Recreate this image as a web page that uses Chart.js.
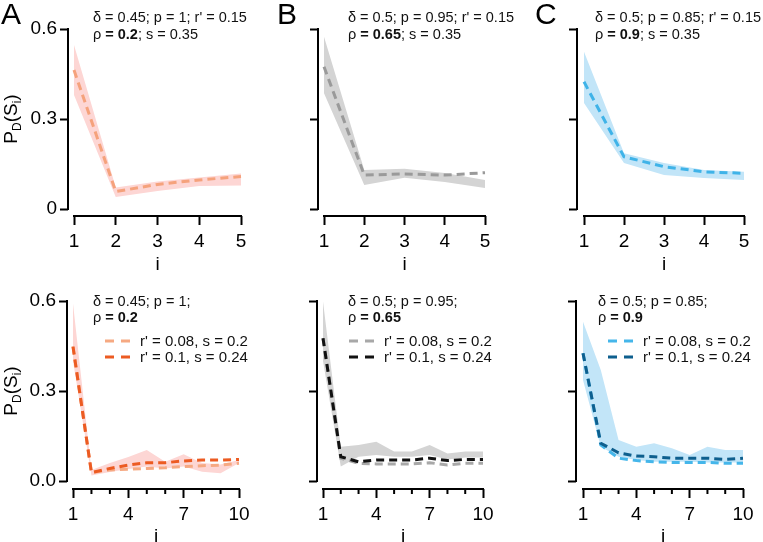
<!DOCTYPE html>
<html><head><meta charset="utf-8">
<script src="https://cdn.jsdelivr.net/npm/chart.js@4/dist/chart.umd.min.js"></script>
<style>
html,body{margin:0;padding:0;background:#fff;}
#wrap{position:relative;width:763px;height:542px;overflow:hidden;background:#fff;}
#wrap canvas{position:absolute;left:0;top:0;}
</style></head><body>
<div id="wrap">
<canvas id="c0" width="763" height="542"></canvas>
<canvas id="c1" width="763" height="542"></canvas>
<canvas id="c2" width="763" height="542"></canvas>
<canvas id="c3" width="763" height="542"></canvas>
<canvas id="c4" width="763" height="542"></canvas>
<canvas id="c5" width="763" height="542"></canvas>
</div>
<script>
// ---------- data ----------
const iTop = [1, 2, 3, 4, 5];
const iBottom = [1, 2, 3, 4, 5, 6, 7, 8, 9, 10];
const yTickValues = [0, 0.3, 0.6];
const yTickLabelsTop = ['0', '0.3', '0.6'];
const yTickLabelsBottom = ['0.0', '0.3', '0.6'];
const xTickLabelsTop = ['1', '2', '3', '4', '5'];
const xTickLabelsBottom = ['1', '', '', '4', '', '', '7', '', '', '10'];

// top row (r' = 0.15, s = 0.35)
const topA_mean = [0.463, 0.058, 0.082, 0.097, 0.108];
const topA_hi   = [0.547, 0.072, 0.092, 0.105, 0.118];
const topA_lo   = [0.380, 0.040, 0.060, 0.077, 0.078];
const topB_mean = [0.474, 0.113, 0.117, 0.113, 0.121];
const topB_hi   = [0.574, 0.130, 0.134, 0.120, 0.097];
const topB_lo   = [0.386, 0.080, 0.104, 0.090, 0.070];
const topC_mean = [0.424, 0.174, 0.141, 0.124, 0.119];
const topC_hi   = [0.524, 0.186, 0.153, 0.130, 0.124];
const topC_lo   = [0.353, 0.153, 0.113, 0.103, 0.097];

// bottom row
const botA_r008 = [0.448, 0.028, 0.037, 0.039, 0.042, 0.044, 0.048, 0.051, 0.053, 0.059];
const botA_r010 = [0.448, 0.028, 0.042, 0.053, 0.061, 0.061, 0.067, 0.070, 0.070, 0.072];
const botA_hi   = [0.592, 0.037, 0.060, 0.080, 0.103, 0.064, 0.089, 0.060, 0.055, 0.070];
const botA_lo   = [0.400, 0.018, 0.030, 0.040, 0.048, 0.042, 0.048, 0.031, 0.026, 0.060];
const botB_r008 = [0.476, 0.076, 0.059, 0.057, 0.057, 0.057, 0.061, 0.053, 0.059, 0.059];
const botB_r010 = [0.476, 0.081, 0.064, 0.070, 0.070, 0.070, 0.076, 0.068, 0.072, 0.072];
const botB_hi   = [0.598, 0.114, 0.120, 0.131, 0.098, 0.098, 0.120, 0.092, 0.098, 0.098];
const botB_lo   = [0.400, 0.048, 0.081, 0.087, 0.081, 0.081, 0.087, 0.072, 0.078, 0.078];
const botC_r008 = [0.426, 0.120, 0.076, 0.068, 0.064, 0.062, 0.062, 0.062, 0.059, 0.059];
const botC_r010 = [0.426, 0.126, 0.094, 0.083, 0.081, 0.076, 0.076, 0.076, 0.072, 0.076];
const botC_hi   = [0.531, 0.370, 0.137, 0.114, 0.126, 0.109, 0.087, 0.114, 0.103, 0.103];
const botC_lo   = [0.337, 0.114, 0.081, 0.070, 0.064, 0.064, 0.064, 0.062, 0.062, 0.062];

const legendLabels = ["r' = 0.08, s = 0.2", "r' = 0.1, s = 0.24"];

// ---------- styling ----------
const FONT = '"Liberation Sans", Arial, Helvetica, sans-serif';
const COL = {
  bandA: '#fdd6d4', lineA: '#f5a27c', lightA: '#f6a982', darkA: '#ec5b22',
  bandB: '#d4d4d4', lineB: '#9a9a9a', lightB: '#a8a8a8', darkB: '#111111',
  bandC: '#c2e5f8', lineC: '#3fb3e8', lightC: '#45b6ea', darkC: '#0e5f8e'
};
const X_H = 45, Y_W = 62, W = 763, H = 542;
const TICK_FS = 19;
const ANN_FS = 14.5;

function pts(xs, ys) { return xs.map((x, k) => ({x: x, y: ys[k]})); }
function bandSets(xs, lo, hi, color) {
  return [
    {data: pts(xs, lo), borderWidth: 0, pointRadius: 0, fill: false, order: 20, borderColor: 'rgba(0,0,0,0)'},
    {data: pts(xs, hi), borderWidth: 0, pointRadius: 0, fill: '-1', order: 19, backgroundColor: color, borderColor: 'rgba(0,0,0,0)'}
  ];
}
function lineSet(xs, ys, color, order) {
  return {data: pts(xs, ys), borderColor: color, borderWidth: 3, borderDash: [8, 5], pointRadius: 0,
          fill: false, tension: 0, order: order, clip: false, borderCapStyle: 'butt'};
}

function drawSegs(ctx, x, y, segs, size) {
  let cx = x;
  segs.forEach(s => {
    ctx.font = (s.b ? 'bold ' : '') + size + 'px ' + FONT;
    ctx.fillText(s.t, cx, y);
    cx += ctx.measureText(s.t).width;
  });
}

const panelPlugin = {
  id: 'panelDeco',
  afterDraw(chart) {
    const o = chart.options.plugins.panelDeco;
    const ctx = chart.ctx, xs = chart.scales.x, ys = chart.scales.y, ca = chart.chartArea;
    ctx.save();
    ctx.strokeStyle = '#000'; ctx.lineWidth = 2; ctx.lineCap = 'butt';
    // y spine
    ctx.beginPath();
    ctx.moveTo(ca.left, ys.getPixelForValue(yTickValues[0]) + 1);
    ctx.lineTo(ca.left, ys.getPixelForValue(yTickValues[yTickValues.length - 1]) - 1);
    ctx.stroke();
    // x spine
    const x0 = xs.getPixelForValue(o.xTicks[0]), x1 = xs.getPixelForValue(o.xTicks[o.xTicks.length - 1]);
    ctx.beginPath();
    ctx.moveTo(x0 - 1, ca.bottom); ctx.lineTo(x1 + 1, ca.bottom);
    ctx.stroke();
    // minor x ticks
    o.xTicks.forEach((v, k) => {
      if (o.xLabels[k] === '') {
        const px = xs.getPixelForValue(v);
        ctx.beginPath(); ctx.moveTo(px, ca.bottom); ctx.lineTo(px, ca.bottom + 5); ctx.stroke();
      }
    });
    ctx.fillStyle = '#000';
    // axis title i
    ctx.font = TICK_FS + 'px ' + FONT; ctx.textAlign = 'center'; ctx.textBaseline = 'middle';
    ctx.fillText('i', (x0 + x1) / 2, o.iY);
    // panel letter
    if (o.letter) {
      ctx.font = '30px ' + FONT; ctx.textAlign = 'left'; ctx.textBaseline = 'alphabetic';
      ctx.fillText(o.letter, o.letterX, 24);
    }
    // y title
    if (o.yTitle) {
      ctx.save();
      ctx.translate(17, (ys.getPixelForValue(0) + ys.getPixelForValue(0.6)) / 2);
      ctx.rotate(-Math.PI / 2);
      ctx.textAlign = 'left'; ctx.textBaseline = 'alphabetic';
      const parts = [['P', 19, 0], ['D', 12, 4], ['(S', 19, 0], ['i', 12, 4], [')', 19, 0]];
      let tw = 0;
      parts.forEach(p => { ctx.font = p[1] + 'px ' + FONT; tw += ctx.measureText(p[0]).width; });
      let cx = -tw / 2;
      parts.forEach(p => { ctx.font = p[1] + 'px ' + FONT; ctx.fillText(p[0], cx, p[2]); cx += ctx.measureText(p[0]).width; });
      ctx.restore();
    }
    // annotation
    ctx.textAlign = 'left'; ctx.textBaseline = 'alphabetic'; ctx.fillStyle = '#111';
    drawSegs(ctx, o.annX, o.annY1, o.ann1, ANN_FS);
    drawSegs(ctx, o.annX, o.annY2, o.ann2, ANN_FS);
    // legend
    if (o.legend) {
      o.legend.forEach((L, k) => {
        const by = o.legY + k * 16;
        ctx.strokeStyle = L.color; ctx.lineWidth = 3; ctx.setLineDash([9, 7]);
        ctx.beginPath(); ctx.moveTo(o.legX0, by - 5); ctx.lineTo(o.legX0 + 26, by - 5); ctx.stroke();
        ctx.setLineDash([]);
        ctx.fillStyle = '#111'; ctx.font = '15px ' + FONT;
        ctx.fillText(L.text, o.legX0 + 35, by);
      });
    }
    ctx.restore();
  }
};

function makePanel(id, P) {
  const xmin = 1 - P.firstOff * (P.xmax - 1) / (P.right - P.axisX - P.firstOff);
  const hgt = P.bottom - P.top;
  const ymin = -0.6 * P.zeroOff / (hgt - P.zeroOff);
  new Chart(document.getElementById(id), {
    type: 'line',
    data: {datasets: P.datasets},
    options: {
      responsive: false, animation: false, events: [],
      layout: {padding: {left: P.axisX - Y_W, top: P.top, right: W - P.right, bottom: H - P.bottom - X_H}},
      plugins: {legend: {display: false}, tooltip: {enabled: false}, panelDeco: P.deco},
      scales: {
        x: {
          type: 'linear', min: xmin, max: P.xmax,
          border: {display: false},
          grid: {display: true, drawOnChartArea: false, drawTicks: true, tickLength: 9, tickWidth: 2,
                 tickColor: c => (P.deco.xLabels[c.index] === '' ? 'rgba(0,0,0,0)' : '#000')},
          afterBuildTicks: s => { s.ticks = P.deco.xTicks.map(v => ({value: v})); },
          ticks: {autoSkip: false, maxRotation: 0, padding: 5, color: '#000',
                  font: {family: FONT, size: TICK_FS}, callback: (v, k) => P.deco.xLabels[k]},
          afterFit: s => { s.height = X_H; }
        },
        y: {
          type: 'linear', min: ymin, max: 0.6,
          border: {display: false},
          grid: {display: true, drawOnChartArea: false, drawTicks: true, tickLength: 8, tickWidth: 2, tickColor: '#000'},
          afterBuildTicks: s => { s.ticks = yTickValues.map(v => ({value: v})); },
          ticks: {autoSkip: false, padding: 3, color: '#000', font: {family: FONT, size: TICK_FS},
                  callback: (v, k) => P.yLabels[k]},
          afterFit: s => { s.width = Y_W; }
        }
      }
    },
    plugins: [panelPlugin]
  });
}

const blank = ['', '', ''];
const annTop = (d, p) => [{t: 'δ = ' + d + '; p = ' + p + "; r' = 0.15"}];
const ann2Top = r => [{t: 'ρ'}, {t: ' = ' + r, b: true}, {t: '; s = 0.35'}];
const annBot = (d, p) => [{t: 'δ = ' + d + '; p = ' + p + ';'}];
const ann2Bot = r => [{t: 'ρ'}, {t: ' = ' + r, b: true}];

// ---- top row ----
makePanel('c0', {axisX: 68, top: 29, right: 241, bottom: 216, firstOff: 6, xmax: 5, zeroOff: 7, yLabels: yTickLabelsTop,
  datasets: [...bandSets(iTop, topA_lo, topA_hi, COL.bandA), lineSet(iTop, topA_mean, COL.lineA, 0)],
  deco: {xTicks: iTop, xLabels: xTickLabelsTop, iY: 265, letter: 'A', letterX: 1, yTitle: true,
         annX: 93, annY1: 22, annY2: 39, ann1: annTop('0.45', '1'), ann2: ann2Top('0.2')}});
makePanel('c1', {axisX: 318, top: 29, right: 485, bottom: 216, firstOff: 6, xmax: 5, zeroOff: 7, yLabels: blank,
  datasets: [...bandSets(iTop, topB_lo, topB_hi, COL.bandB), lineSet(iTop, topB_mean, COL.lineB, 0)],
  deco: {xTicks: iTop, xLabels: xTickLabelsTop, iY: 265, letter: 'B', letterX: 277,
         annX: 348, annY1: 22, annY2: 39, ann1: annTop('0.5', '0.95'), ann2: ann2Top('0.65')}});
makePanel('c2', {axisX: 577, top: 29, right: 744, bottom: 216, firstOff: 7, xmax: 5, zeroOff: 7, yLabels: blank,
  datasets: [...bandSets(iTop, topC_lo, topC_hi, COL.bandC), lineSet(iTop, topC_mean, COL.lineC, 0)],
  deco: {xTicks: iTop, xLabels: xTickLabelsTop, iY: 265, letter: 'C', letterX: 535,
         annX: 595, annY1: 22, annY2: 39, ann1: annTop('0.5', '0.85'), ann2: ann2Top('0.9')}});

// ---- bottom row ----
makePanel('c3', {axisX: 67, top: 301, right: 239, bottom: 489, firstOff: 6, xmax: 10, zeroOff: 8, yLabels: yTickLabelsBottom,
  datasets: [...bandSets(iBottom, botA_lo, botA_hi, COL.bandA), lineSet(iBottom, botA_r008, COL.lightA, 1), lineSet(iBottom, botA_r010, COL.darkA, 0)],
  deco: {xTicks: iBottom, xLabels: xTickLabelsBottom, iY: 537, yTitle: true,
         annX: 93, annY1: 306, annY2: 322, ann1: annBot('0.45', '1'), ann2: ann2Bot('0.2'),
         legX0: 105, legY: 346, legend: [{text: legendLabels[0], color: COL.lightA}, {text: legendLabels[1], color: COL.darkA}]}});
makePanel('c4', {axisX: 317, top: 301, right: 483, bottom: 489, firstOff: 6, xmax: 10, zeroOff: 8, yLabels: blank,
  datasets: [...bandSets(iBottom, botB_lo, botB_hi, COL.bandB), lineSet(iBottom, botB_r008, COL.lightB, 1), lineSet(iBottom, botB_r010, COL.darkB, 0)],
  deco: {xTicks: iBottom, xLabels: xTickLabelsBottom, iY: 537,
         annX: 348, annY1: 306, annY2: 322, ann1: annBot('0.5', '0.95'), ann2: ann2Bot('0.65'),
         legX0: 349, legY: 346, legend: [{text: legendLabels[0], color: COL.lightB}, {text: legendLabels[1], color: COL.darkB}]}});
makePanel('c5', {axisX: 576, top: 301, right: 743, bottom: 489, firstOff: 7, xmax: 10, zeroOff: 8, yLabels: blank,
  datasets: [...bandSets(iBottom, botC_lo, botC_hi, COL.bandC), lineSet(iBottom, botC_r008, COL.lightC, 1), lineSet(iBottom, botC_r010, COL.darkC, 0)],
  deco: {xTicks: iBottom, xLabels: xTickLabelsBottom, iY: 537,
         annX: 598, annY1: 306, annY2: 322, ann1: annBot('0.5', '0.85'), ann2: ann2Bot('0.9'),
         legX0: 608, legY: 346, legend: [{text: legendLabels[0], color: COL.lightC}, {text: legendLabels[1], color: COL.darkC}]}});
</script>
</body></html>
